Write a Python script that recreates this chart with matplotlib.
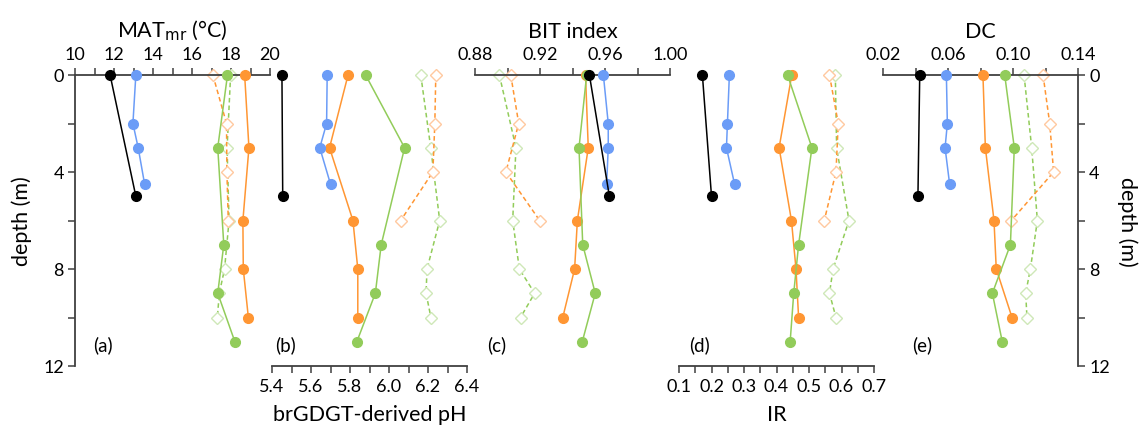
import numpy as np
import matplotlib.pyplot as plt
from matplotlib.ticker import FixedLocator, FormatStrFormatter

plt.rcParams['font.family'] = ['Lato', 'DejaVu Sans']

# depths (m) of each profile
depth_black = [0, 5]
depth_blue = [0, 2, 3, 4.5]
depth_orange = [0, 3, 6, 8, 10]
depth_green = [0, 3, 7, 9, 11]
depth_orange_d = [0, 2, 4, 6]
depth_green_d = [0, 3, 6, 8, 9, 10]

# (a) MAT_mr
mat_black = [11.8, 13.12]
mat_blue = [13.12, 12.97, 13.24, 13.57]
mat_orange = [18.70, 18.92, 18.61, 18.63, 18.89]
mat_green = [17.82, 17.32, 17.63, 17.32, 18.20]
mat_orange_d = [17.07, 17.77, 17.79, 17.86]
mat_green_d = [17.98, 17.80, 17.90, 17.67, 17.40, 17.30]

# (b) pH
ph_black = [5.451, 5.455]
ph_blue = [5.683, 5.680, 5.645, 5.700]
ph_orange = [5.790, 5.695, 5.815, 5.840, 5.840]
ph_green = [5.880, 6.080, 5.960, 5.930, 5.835]
ph_orange_d = [6.240, 6.235, 6.225, 6.060]
ph_green_d = [6.163, 6.214, 6.260, 6.195, 6.190, 6.215]

# (c) BIT
bit_black = [0.9504, 0.9627]
bit_blue = [0.9590, 0.9620, 0.9620, 0.9610]
bit_orange = [0.9480, 0.9497, 0.9430, 0.9413, 0.9340]
bit_green = [0.9487, 0.9440, 0.9463, 0.9540, 0.9460]
bit_orange_d = [0.9020, 0.9069, 0.8990, 0.9198]
bit_green_d = [0.8950, 0.9052, 0.9032, 0.9073, 0.9167, 0.9080]

# (d) IR
ir_black = [0.172, 0.200]
ir_blue = [0.255, 0.249, 0.246, 0.271]
ir_orange = [0.447, 0.408, 0.446, 0.460, 0.468]
ir_green = [0.434, 0.509, 0.468, 0.453, 0.442]
ir_orange_d = [0.563, 0.590, 0.583, 0.547]
ir_green_d = [0.581, 0.585, 0.623, 0.574, 0.563, 0.583]

# (e) DC
dc_black = [0.0426, 0.0415]
dc_blue = [0.0590, 0.0596, 0.0582, 0.0610]
dc_orange = [0.0815, 0.0830, 0.0883, 0.0897, 0.0994]
dc_green = [0.0949, 0.1008, 0.0984, 0.0873, 0.0934]
dc_orange_d = [0.1185, 0.1226, 0.1250, 0.0990]
dc_green_d = [0.1068, 0.1115, 0.1150, 0.1107, 0.1078, 0.1086]

BLACK = '#000000'
BLUE = '#6b9cf7'
ORANGE = '#ff9633'
GREEN = '#92cc5a'
ORANGE_PALE = '#ffc9a0'
GREEN_PALE = '#cfe8b8'
AXC = '#404040'

panels = [
    dict(vals=(mat_black, mat_blue, mat_orange, mat_green, mat_orange_d, mat_green_d),
         lo=10, hi=20, major=2, minor=1, fmt='%d', side='top',
         label='MAT$_{\\mathrm{mr}}$ (°C)', tag='(a)', tagx=10.93, left=75),
    dict(vals=(ph_black, ph_blue, ph_orange, ph_green, ph_orange_d, ph_green_d),
         lo=5.4, hi=6.4, major=0.2, minor=0.1, fmt='%.1f', side='bottom',
         label='brGDGT-derived pH', tag='(b)', tagx=5.415, left=272),
    dict(vals=(bit_black, bit_blue, bit_orange, bit_green, bit_orange_d, bit_green_d),
         lo=0.88, hi=1.00, major=0.04, minor=0.02, fmt='%.2f', side='top',
         label='BIT index', tag='(c)', tagx=0.8874, left=475),
    dict(vals=(ir_black, ir_blue, ir_orange, ir_green, ir_orange_d, ir_green_d),
         lo=0.1, hi=0.7, major=0.1, minor=0.05, fmt='%.1f', side='bottom',
         label='IR', tag='(d)', tagx=0.131, left=679),
    dict(vals=(dc_black, dc_blue, dc_orange, dc_green, dc_orange_d, dc_green_d),
         lo=0.02, hi=0.14, major=0.04, minor=0.02, fmt='%.2f', side='top',
         label='DC', tag='(e)', tagx=0.0378, left=883),
]

W, H = 1139, 431
fig = plt.figure(figsize=(W / 100, H / 100), dpi=100)
y_top, y_bot = 76, 367
pw = 195

for i, p in enumerate(panels):
    ax = fig.add_axes([p['left'] / W, 1 - y_bot / H, pw / W, (y_bot - y_top) / H])
    ax.patch.set_alpha(0)
    black, blue, orange, green, orange_d, green_d = p['vals']
    ms = 7
    ax.plot(green_d, depth_green_d, linestyle=(0, (3, 2)), color=GREEN, lw=1.1,
            marker='D', ms=6, mfc='white', mec=GREEN_PALE, mew=1.0, clip_on=False, zorder=2)
    ax.plot(orange_d, depth_orange_d, linestyle=(0, (3, 2)), color=ORANGE, lw=1.1,
            marker='D', ms=6, mfc='white', mec=ORANGE_PALE, mew=1.0, clip_on=False, zorder=2)
    ax.plot(orange, depth_orange, '-o', color=ORANGE, lw=1.1, ms=ms, clip_on=False, zorder=3)
    ax.plot(green, depth_green, '-o', color=GREEN, lw=1.1, ms=ms, clip_on=False, zorder=3)
    ax.plot(blue, depth_blue, '-o', color=BLUE, lw=1.1, ms=ms, clip_on=False, zorder=3)
    ax.plot(black, depth_black, '-o', color=BLACK, lw=1.1, ms=ms, clip_on=False, zorder=4)

    ax.set_xlim(p['lo'], p['hi'])
    ax.set_ylim(12, 0)
    for s in ax.spines.values():
        s.set_visible(False)
        s.set_color(AXC)
        s.set_linewidth(1.3)
    ax.spines[p['side']].set_visible(True)
    ax.xaxis.set_ticks_position(p['side'])
    ax.xaxis.set_label_position(p['side'])
    n_major = int(round((p['hi'] - p['lo']) / p['major']))
    n_minor = int(round((p['hi'] - p['lo']) / p['minor']))
    ax.xaxis.set_major_locator(FixedLocator(np.linspace(p['lo'], p['hi'], n_major + 1)))
    ax.xaxis.set_minor_locator(FixedLocator(np.linspace(p['lo'], p['hi'], n_minor + 1)))
    ax.xaxis.set_major_formatter(FormatStrFormatter(p['fmt']))
    ax.tick_params(axis='x', which='both', direction='out', length=5, width=1.1,
                   color=AXC, labelsize=13, pad=4)
    ax.set_xlabel(p['label'], fontsize=15.5, labelpad=7)

    ax.yaxis.set_major_locator(FixedLocator([0, 4, 8, 12]))
    ax.yaxis.set_minor_locator(FixedLocator([2, 6, 10]))
    ax.tick_params(axis='y', which='both', direction='out', length=5, width=1.1,
                   color=AXC, labelsize=13, pad=3)
    if i == 0:
        ax.spines['left'].set_visible(True)
        ax.set_ylabel('depth (m)', fontsize=15.5, labelpad=8)
    elif i == len(panels) - 1:
        ax.spines['right'].set_visible(True)
        ax.yaxis.set_ticks_position('right')
        ax.yaxis.set_label_position('right')
        ax.set_ylabel('depth (m)', fontsize=15.5, rotation=270, labelpad=20)
    else:
        ax.tick_params(axis='y', which='both', left=False, right=False,
                       labelleft=False, labelright=False)

    ax.text(p['tagx'], 11.1, p['tag'], fontsize=13.5, ha='left', va='center')

fig.savefig('out.png', dpi=100)
